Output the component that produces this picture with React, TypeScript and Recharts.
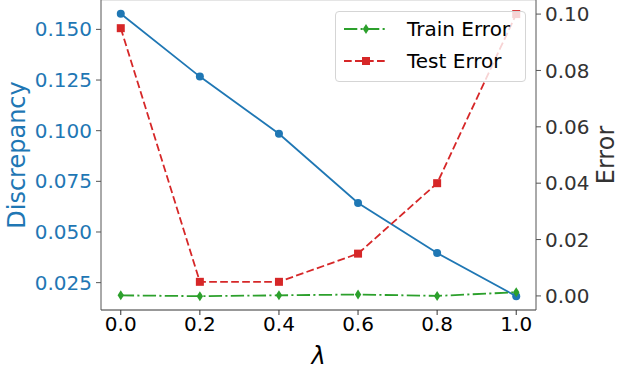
import {
  ComposedChart,
  Line,
  XAxis,
  YAxis,
  Legend,
  ReferenceLine,
} from "recharts";

const lambdas = [0.0, 0.2, 0.4, 0.6, 0.8, 1.0];
const discrepancy = [0.1577, 0.1267, 0.0985, 0.0643, 0.0396, 0.0183];
const trainError = [0.0002, -0.0001, 0.0002, 0.0005, 0.0, 0.0013];
const testError = [0.095, 0.005, 0.005, 0.015, 0.04, 0.1];

const xTicks = [0, 0.2, 0.4, 0.6, 0.8, 1.0];
const leftTicks = [0.025, 0.05, 0.075, 0.1, 0.125, 0.15];
const rightTicks = [0, 0.02, 0.04, 0.06, 0.08, 0.1];

const rows = lambdas.map((l, i) => ({
  lambda: l,
  discrepancy: discrepancy[i],
  train: trainError[i],
  test: testError[i],
}));

const BLUE = "#1f77b4";
const GREEN = "#2ca02c";
const RED = "#d62728";
const FONT = "DejaVu Sans";

const Square = (p: any) => (
  <rect key={p.index} x={p.cx - 4} y={p.cy - 4} width={8} height={8} fill={RED} />
);
const Diamond = (p: any) => (
  <polygon
    key={p.index}
    points={`${p.cx},${p.cy - 5} ${p.cx + 3.2},${p.cy} ${p.cx},${p.cy + 5} ${p.cx - 3.2},${p.cy}`}
    fill={GREEN}
  />
);

// rotated axis title, centred on the plot height
const sideTitle = (text: string, x: number, color: string) => () => (
  <text
    x={x}
    y={155}
    transform={`rotate(-90 ${x} 155)`}
    textAnchor="middle"
    dominantBaseline="central"
    fontSize={24}
    fontFamily={FONT}
    fill={color}
  >
    {text}
  </text>
);

function LegendBox() {
  const items = [
    { name: "Train Error", color: GREEN, dash: "13.3 3.3 2.1 3.3", marker: "d" },
    { name: "Test Error", color: RED, dash: "7.7 3.3", marker: "s" },
  ];
  return (
    <div
      style={{
        position: "absolute",
        left: 335,
        top: 11,
        width: 189,
        height: 69,
        background: "rgba(255,255,255,0.8)",
        border: "1px solid #d5d5d5",
        borderRadius: 4,
        fontFamily: FONT,
        fontSize: 20,
        color: "#000",
      }}
    >
      {items.map((it, i) => (
        <div
          key={it.name}
          style={{ position: "absolute", left: 7, top: 5 + i * 32, height: 24, display: "flex", alignItems: "center" }}
        >
          <svg width={46} height={24}>
            <line x1={1} x2={45} y1={12} y2={12} stroke={it.color} strokeWidth={2} strokeDasharray={it.dash} />
            {it.marker === "s" ? (
              <rect x={19} y={8} width={8} height={8} fill={it.color} />
            ) : (
              <polygon points="23,7 26.2,12 23,17 19.8,12" fill={it.color} />
            )}
          </svg>
          <span style={{ marginLeft: 18, whiteSpace: "nowrap" }}>{it.name}</span>
        </div>
      ))}
    </div>
  );
}

export default function App() {
  return (
    <div style={{ position: "absolute", left: 0, top: 0 }}>
      <ComposedChart
        width={619}
        height={370}
        data={rows}
        margin={{ top: 0, right: 0, left: 0, bottom: 0 }}
      >
        <XAxis
          dataKey="lambda"
          type="number"
          domain={[-0.05, 1.05]}
          ticks={xTicks}
          tickFormatter={(v: number) => v.toFixed(1)}
          height={60}
          stroke="#333"
          tickSize={5}
          tick={{ fill: "#000", fontSize: 20, fontFamily: FONT }}
          label={{
            value: "λ",
            position: "insideBottom",
            offset: 6,
            style: { fontSize: 24, fontStyle: "italic", fill: "#000", fontFamily: FONT },
          }}
        />
        <YAxis
          yAxisId="left"
          type="number"
          domain={[0.0115, 0.1645]}
          ticks={leftTicks}
          tickFormatter={(v: number) => v.toFixed(3)}
          width={101}
          stroke="#555"
          tickSize={5}
          tickMargin={4}
          tick={{ fill: BLUE, fontSize: 20, fontFamily: FONT }}
          allowDataOverflow
          label={sideTitle("Discrepancy", 17, BLUE)}
        />
        <YAxis
          yAxisId="right"
          orientation="right"
          type="number"
          domain={[-0.005, 0.105]}
          ticks={rightTicks}
          tickFormatter={(v: number) => v.toFixed(2)}
          width={83}
          stroke="#555"
          tickSize={5}
          tickMargin={4}
          tick={{ fill: "#333", fontSize: 20, fontFamily: FONT }}
          allowDataOverflow
          label={sideTitle("Error", 606, "#333")}
        />
        <ReferenceLine yAxisId="left" y={0.1645} stroke="#ccc" />
        <Line
          yAxisId="left"
          dataKey="discrepancy"
          stroke={BLUE}
          strokeWidth={1.8}
          dot={{ r: 4, fill: BLUE, stroke: BLUE, strokeWidth: 0 }}
          isAnimationActive={false}
          legendType="none"
        />
        <Line
          yAxisId="right"
          dataKey="train"
          name="Train Error"
          stroke={GREEN}
          strokeWidth={1.8}
          strokeDasharray="13.3 3.3 2.1 3.3"
          dot={Diamond}
          isAnimationActive={false}
        />
        <Line
          yAxisId="right"
          dataKey="test"
          name="Test Error"
          stroke={RED}
          strokeWidth={1.8}
          strokeDasharray="7.7 3.3"
          dot={Square}
          isAnimationActive={false}
        />
        <Legend content={() => <LegendBox />} wrapperStyle={{ left: 0, top: 0, width: 619, height: 0 }} />
      </ComposedChart>
    </div>
  );
}
